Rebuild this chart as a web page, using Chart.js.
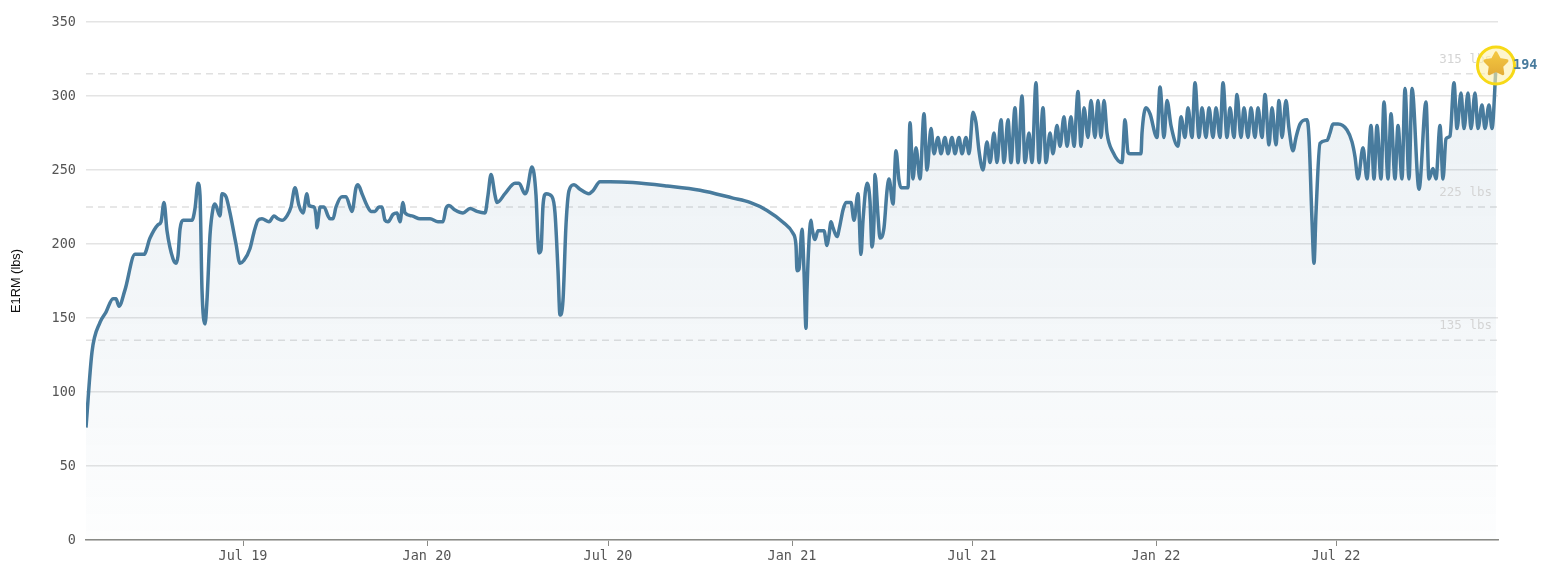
<!DOCTYPE html>
<html>
<head>
<meta charset="utf-8">
<title>E1RM</title>
<script src="https://cdn.jsdelivr.net/npm/chart.js@4/dist/chart.umd.min.js"></script>
<style>
  html, body { margin: 0; padding: 0; background: #fff; }
  #wrap { width: 1546px; height: 573px; }
</style>
</head>
<body>
<div id="wrap"><canvas id="e1rmChart"></canvas></div>
<script>
// days since 1 Jul 2019
const days = [
  -157,-151,-143,-137,-130,-127,-124,-118,-108,-99,
  -93,-85,-82,-79,-76,-70,-67,-65,-63,-60,
  -51,-48,-45,-43,-41,-38,-36,-33,-30,-28,
  -23,-21,-17,-13,-7,-3,1,7,11,15,
  19,26,31,35,39,44,48,52,56,60,
  64,66,71,73,74,76,77,81,85,87,
  90,93,99,103,109,113,115,119,124,128,
  132,136,139,142,145,150,154,157,160,162,
  169,177,187,195,200,203,206,212,220,227,
  234,242,245,248,252,254,262,272,276,
  282,284,289,293,295,296,298,300,303,
  309,312,315,317,320,323,326,331,337,346,
  350,357,367,390,424,457,490,507,524,540,
  550,553,554,556,559,561,563,564,566,
  568,569,572,575,581,584,586,588,590,594,
  597,600,603,608,611,615,618,620,624,627,
  629,631,632,635,637,641,644,646,650,653,
  656,658,665,667,670,673,677,681,684,688,
  691,695,698,702,705,709,712,716,719,723,
  726,730,733,736,740,744,747,751,754,758,
  761,765,768,772,775,779,782,786,789,793,
  796,800,803,807,810,814,817,821,824,828,
  831,835,838,841,845,848,852,855,858,861,
  864,870,879,882,885,887,898,899,903,907,
  914,917,921,924,928,935,938,942,945,949,
  952,956,959,963,966,970,973,977,980,984,
  987,991,994,998,1001,1005,1008,1012,1015,1019,
  1022,1026,1029,1033,1036,1039,1043,1046,1050,1053,
  1057,1064,1066,1069,1071,1073,1077,1084,1087,1090,
  1095,1104,1109,1112,1115,1120,1124,1128,1131,1134,
  1138,1141,1145,1148,1152,1155,1159,1162,1166,1169,
  1176,1183,1186,1190,1193,1197,1200,1203,1207,1211,
  1214,1218,1221,1225,1228,1232,1235,1239,1242,1246,
  1249,1253
];
const e1rm = [
  76,127,147,154,163,163,158,169,193,193,
  204,213,215,228,209,190,187,192,210,216,
  216,224,241,233,169,146,162,206,224,227,
  219,234,232,221,200,187,189,197,208,216,
  217,215,219,217,216,219,225,238,226,221,
  234,226,225,219,211,221,225,225,219,217,
  217,225,232,232,222,238,240,234,226,222,
  222,225,225,216,215,220,221,215,228,221,
  219,217,217,215,215,224,226,223,221,224,
  222,221,233,247,233,228,234,241,241,
  234,236,252,233,202,194,196,226,234,
  232,221,182,152,162,213,236,240,237,234,
  236,242,242,241.5,239.2,236.3,231,228.1,222.7,214.7,
  207.2,199,182,183,210,182,143,169,202,
  216,211,203,209,209,199,206,215,211,205,
  213,223,228,228,216,234,193,216,241,229,
  198,216,247,219,204,211,236,244,227,263,
  243,238,238,282,244,265,244,288,250,278,
  261,272,261,272,261,272,261,272,261,272,
  261,289,282,263,250,269,255,275,255,284,
  255,284,255,292,255,300,255,275,255,309,
  255,292,255,275,261,280,266,286,266,286,
  266,303,266,292,272,297,272,297,272,297,
  275,262,255,284,262,261,261,275,292,288,
  272,306,272,297,280,266,286,272,292,272,
  309,272,292,272,292,272,292,272,309,272,
  292,272,301,272,292,272,292,272,292,272,
  301,267,292,267,297,272,297,278,263,272,
  281,284,272,216,187,221,268,270,275,281,
  281,277,269,259,244,265,244,280,244,280,
  244,296,244,288,244,280,244,305,244,305,
  237,296,244,251,244,280,244,271,273,309,
  278,302,278,302,278,302,278,294,278,294,
  278,320
];
const tickDays = [0, 184, 365, 549, 729, 913, 1093];
const tickLabels = ["Jul 19", "Jan 20", "Jul 20", "Jan 21", "Jul 21", "Jan 22", "Jul 22"];
const targetWeights = [315, 225, 135];
const xMin = -157;
const xMax = 1255;
const bestLabel = "194";

const monoFont = "'DejaVu Sans Mono', monospace";
const lineColor = "#487b9d";

var points = days.map(function (d, i) {
  return { x: d, y: e1rm[i] };
});

var targetSets = targetWeights.map(function (w) {
  return {
    label: w + " lbs",
    data: [{ x: xMin, y: w }, { x: xMax, y: w }],
    borderColor: "#e0e0e0",
    borderWidth: 1.5,
    borderDash: [7, 5],
    pointRadius: 0,
    fill: false,
  };
});

// the "315 lbs" style captions above the dashed lines
const targetLabels = {
  id: "targetLabels",
  afterDatasetsDraw(chart) {
    var c = chart.ctx;
    c.save();
    c.font = "12.5px " + monoFont;
    c.fillStyle = "#d4d4d4";
    c.textAlign = "right";
    c.textBaseline = "middle";
    targetWeights.forEach(function (w) {
      c.fillText(w + " lbs", chart.scales.x.getPixelForValue(xMax) - 6, chart.scales.y.getPixelForValue(w) - 14);
    });
    c.restore();
  },
};

// star badge on the last point
const bestMarker = {
  id: "bestMarker",
  afterDatasetsDraw(chart) {
    var c = chart.ctx;
    var px = chart.scales.x.getPixelForValue(days[days.length - 1]);
    var py = chart.scales.y.getPixelForValue(e1rm[e1rm.length - 1]) - 1;

    c.save();
    c.beginPath();
    c.arc(px, py, 18.5, 0, Math.PI * 2);
    c.fillStyle = "rgba(253, 240, 170, 0.6)";
    c.fill();
    c.lineWidth = 3;
    c.strokeStyle = "#f7d917";
    c.stroke();

    c.beginPath();
    for (var i = 0; i < 10; i++) {
      var r = i % 2 === 0 ? 11.5 : 6;
      var a = -Math.PI / 2 + (i * Math.PI) / 5;
      var sx = px + r * Math.cos(a);
      var sy = py - 1 + r * Math.sin(a);
      if (i === 0) c.moveTo(sx, sy);
      else c.lineTo(sx, sy);
    }
    c.closePath();
    var g = c.createLinearGradient(0, py - 12, 0, py + 11);
    g.addColorStop(0, "#f3c63f");
    g.addColorStop(1, "#e2aa35");
    c.fillStyle = g;
    c.strokeStyle = g;
    c.lineWidth = 3;
    c.lineJoin = "round";
    c.fill();
    c.stroke();

    c.font = "bold 13.5px " + monoFont;
    c.fillStyle = lineColor;
    c.textAlign = "left";
    c.textBaseline = "middle";
    c.fillText(bestLabel, px + 17, py);
    c.restore();
  },
};

var ctx = document.getElementById("e1rmChart");
var e1rmChart = new Chart(ctx, {
  type: "line",
  data: {
    datasets: [
      {
        label: "E1RM",
        data: points,
        borderColor: lineColor,
        borderWidth: 3.5,
        pointRadius: 0,
        cubicInterpolationMode: "monotone",
        fill: "origin",
        backgroundColor: function (context) {
          var area = context.chart.chartArea;
          if (!area) return "rgba(72, 123, 157, 0.08)";
          var g = context.chart.ctx.createLinearGradient(0, area.top, 0, area.bottom);
          g.addColorStop(0, "rgba(72, 123, 157, 0.11)");
          g.addColorStop(0.5, "rgba(72, 123, 157, 0.07)");
          g.addColorStop(1, "rgba(72, 123, 157, 0.01)");
          return g;
        },
      },
    ].concat(targetSets),
  },
  options: {
    responsive: true,
    maintainAspectRatio: false,
    animation: false,
    layout: { padding: { top: 22, right: 48, bottom: 0, left: 0 } },
    plugins: {
      legend: { display: false },
      tooltip: { enabled: false },
    },
    scales: {
      x: {
        type: "linear",
        min: xMin,
        max: xMax,
        afterBuildTicks: function (axis) {
          axis.ticks = tickDays.map(function (v) {
            return { value: v };
          });
        },
        afterFit: function (axis) {
          axis.height = 33;
        },
        border: { color: "#8a8a86", width: 1.5 },
        grid: { drawOnChartArea: false, color: "#8a8a86", tickLength: 6 },
        ticks: {
          autoSkip: false,
          maxRotation: 0,
          padding: 2,
          color: "#555",
          font: { family: monoFont, size: 13.5 },
          callback: function (value, index) {
            return tickLabels[index];
          },
        },
      },
      y: {
        min: 0,
        max: 350,
        afterFit: function (axis) {
          axis.width = 86;
        },
        border: { display: false },
        grid: { color: "#e4e4e4", lineWidth: 1.5, drawTicks: false },
        title: {
          display: true,
          text: "E1RM (lbs)",
          color: "#111",
          font: { family: "'Liberation Sans', Arial, sans-serif", size: 12.8 },
          padding: { top: 9, bottom: 0 },
        },
        ticks: {
          stepSize: 50,
          padding: 10,
          color: "#555",
          font: { family: monoFont, size: 13.5 },
        },
      },
    },
  },
  plugins: [targetLabels, bestMarker],
});
</script>
</body>
</html>
